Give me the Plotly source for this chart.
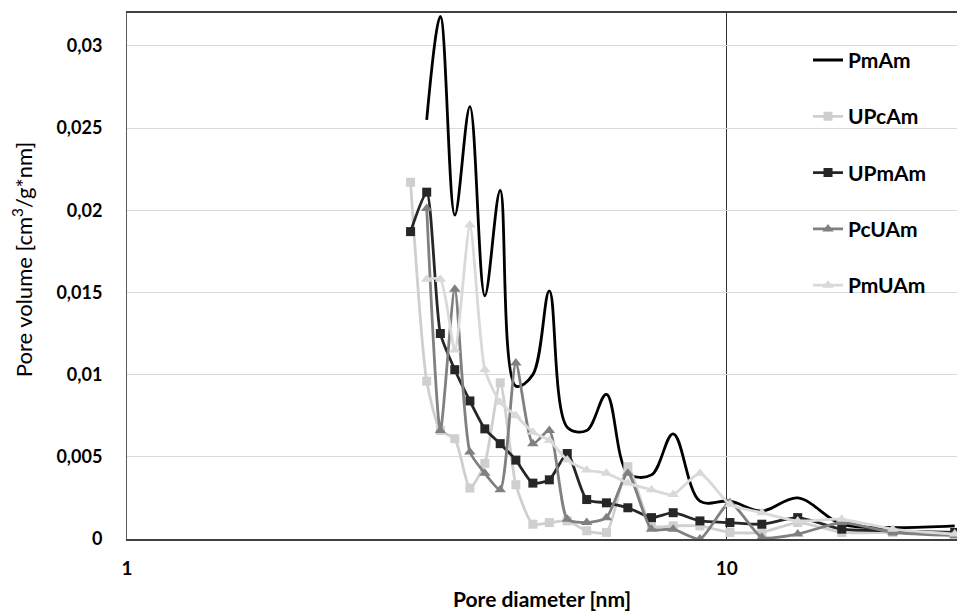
import math
import plotly.graph_objects as go

# Pore diameter [nm]
diameter = [2.97, 3.16, 3.33, 3.52, 3.73, 3.95, 4.19, 4.45, 4.75, 5.06, 5.42, 5.84,
            6.30, 6.84, 7.49, 8.14, 9.02, 10.12, 11.44, 13.13, 15.55, 18.91, 23.99]

pmam = [None, 0.0255, 0.0318, 0.0197, 0.0263, 0.0148, 0.0212, 0.0093, 0.0100, 0.0151,
        0.0068, 0.0066, 0.0088, 0.0040, 0.0039, 0.0064, 0.0023, 0.0023, 0.0017, 0.0025,
        0.0009, 0.0007, 0.0008]
upcam = [0.0217, 0.0096, 0.0066, 0.0061, 0.0031, 0.0046, 0.0095, 0.0033, 0.0009, 0.0010,
         0.0011, 0.0005, 0.0004, 0.0044, 0.0008, 0.0008, 0.0008, 0.0004, 0.0004, 0.0010,
         0.0004, 0.0004, 0.0003]
upmam = [0.0187, 0.0211, 0.0125, 0.0103, 0.0084, 0.0067, 0.0058, 0.0048, 0.0034, 0.0036,
         0.0052, 0.0024, 0.0022, 0.0019, 0.0013, 0.0016, 0.0011, 0.0010, 0.0009, 0.0013,
         0.0006, 0.0005, 0.0004]
pcuam = [None, 0.0201, 0.0066, 0.0152, 0.0053, 0.0040, 0.0030, 0.0107, 0.0058, 0.0066,
         0.0012, 0.0010, 0.0013, 0.0040, 0.0006, 0.0006, 0.0000, 0.0022, 0.0001, 0.0003,
         0.0010, 0.0004, 0.0002]
pmuam = [None, 0.0158, 0.0158, 0.0115, 0.0191, 0.0103, 0.0083, 0.0075, 0.0065, 0.0060,
         0.0048, 0.0042, 0.0040, 0.0034, 0.0030, 0.0027, 0.0040, 0.0021, 0.0016, 0.0011,
         0.0012, 0.0006, 0.0003]

y_tickvals = [0, 0.005, 0.01, 0.015, 0.02, 0.025, 0.03]
y_ticktext = ["0", "0,005", "0,01", "0,015", "0,02", "0,025", "0,03"]
x_tickvals = [1, 10]
x_ticktext = ["1", "10"]

FONT = "Lato"

fig = go.Figure()

series = [
    ("PmAm", pmam, "#000000", None, 1.0),
    ("UPcAm", upcam, "#cfcfcf", "square", 0.6),
    ("UPmAm", upmam, "#262626", "square", 0.6),
    ("PcUAm", pcuam, "#808080", "triangle-up", 0.6),
    ("PmUAm", pmuam, "#d9d9d9", "triangle-up", 0.6),
]

for i, (name, vals, color, sym, sm) in enumerate(series):
    if sym is None:
        mode = "lines"
        marker = None
    else:
        mode = "lines+markers"
        marker = dict(symbol=sym, size=9 if sym == "square" else 10, color=color)
    fig.add_trace(go.Scatter(
        x=diameter, y=vals, name=name, mode=mode,
        line=dict(color=color, width=2.8, shape="spline", smoothing=sm),
        marker=marker, legendgroup=f"g{i}", connectgaps=False,
    ))

fig.update_layout(
    width=957, height=611,
    margin=dict(l=127, r=0, t=13, b=72),
    paper_bgcolor="white", plot_bgcolor="white",
    font=dict(family=FONT, color="#000000"),
    legend=dict(
        x=0.8205, y=0.949, xanchor="left", yanchor="top",
        bgcolor="rgba(0,0,0,0)",
        font=dict(family=FONT, size=21, weight="bold", color="#000000"),
        tracegroupgap=26,
    ),
    annotations=[dict(
        text="Pore volume [cm<sup>3</sup>/g*nm]",
        xref="paper", yref="paper", x=-0.1265, y=0.53,
        xanchor="center", yanchor="middle", textangle=-90, showarrow=False,
        font=dict(family=FONT, size=22, color="#000000"),
    )],
)

fig.update_xaxes(
    type="log", range=[0, math.log10(24.2)],
    tickvals=x_tickvals, ticktext=x_ticktext,
    tickfont=dict(family=FONT, size=19, weight="bold"),
    ticks="", ticklabelstandoff=11,
    showgrid=True, gridcolor="#333333", gridwidth=1,
    showline=True, linecolor="#404040", linewidth=1.5, mirror=True,
    zeroline=False,
    title=dict(text="Pore diameter [nm]", font=dict(family=FONT, size=21, weight="bold"),
               standoff=17),
)

fig.update_yaxes(
    range=[0, 0.032],
    tickvals=y_tickvals, ticktext=y_ticktext,
    tickfont=dict(family=FONT, size=18, weight="bold"),
    ticks="", ticklabelstandoff=20,
    showgrid=True, gridcolor="#d9d9d9", gridwidth=1,
    showline=True, linecolor="#595959", linewidth=1,
    zeroline=False,
)

fig.write_html("out.html")
